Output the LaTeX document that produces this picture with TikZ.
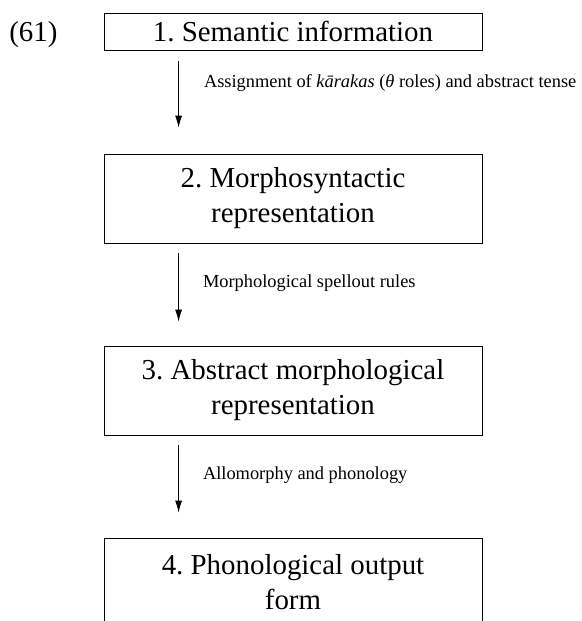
\documentclass[tikz,border=0pt]{standalone}
\usepackage{fontspec}
\setmainfont{Liberation Serif}
\frenchspacing
\usetikzlibrary{arrows.meta}
\begin{document}
\begin{tikzpicture}[x=1pt, y=-1pt,
    stage/.style={draw, line width=0.8pt, minimum width=378pt, inner sep=0pt,
      align=center, font=\fontsize{28.9}{35}\selectfont},
    rule/.style={anchor=west, inner sep=0pt, font=\fontsize{18.4}{22}\selectfont},
    flow/.style={-{Latex[length=12pt,width=7pt]}, line width=0.8pt}]
  \useasboundingbox (0,0) rectangle (581,621);
  \node[stage, minimum height=37pt] (sem) at (293,31.5) {1. Semantic information};
  \node[stage, minimum height=89pt] (msyn) at (293,198.5) {2. Morphosyntactic\\representation};
  \node[stage, minimum height=89pt] (amor) at (293,390.5) {3. Abstract morphological\\representation};
  \node[stage, minimum height=89pt] (phon) at (293,582.5) {4. Phonological output\\form};
  \node[anchor=base east, inner sep=0pt, font=\fontsize{28.9}{35}\selectfont] (exno)
    at ([xshift=-46pt]sem.base west) {(61)};
  % rules between the levels
  \draw[flow] ([xshift=75pt,yshift=-11pt]sem.south west) --
    node[rule, pos=0.33, xshift=25pt] (asg) {Assignment of \textit{kārakas} (\textit{θ} roles) and abstract tense}
    ([xshift=75pt,yshift=26pt]msyn.north west);
  \draw[flow] ([xshift=75pt,yshift=-10pt]msyn.south west) --
    node[rule, pos=0.43, xshift=24pt] (spell) {Morphological spellout rules}
    ([xshift=75pt,yshift=24pt]amor.north west);
  \draw[flow] ([xshift=75pt,yshift=-10pt]amor.south west) --
    node[rule, pos=0.44, xshift=24pt] (allo) {Allomorphy and phonology}
    ([xshift=75pt,yshift=25pt]phon.north west);
\end{tikzpicture}
\end{document}
